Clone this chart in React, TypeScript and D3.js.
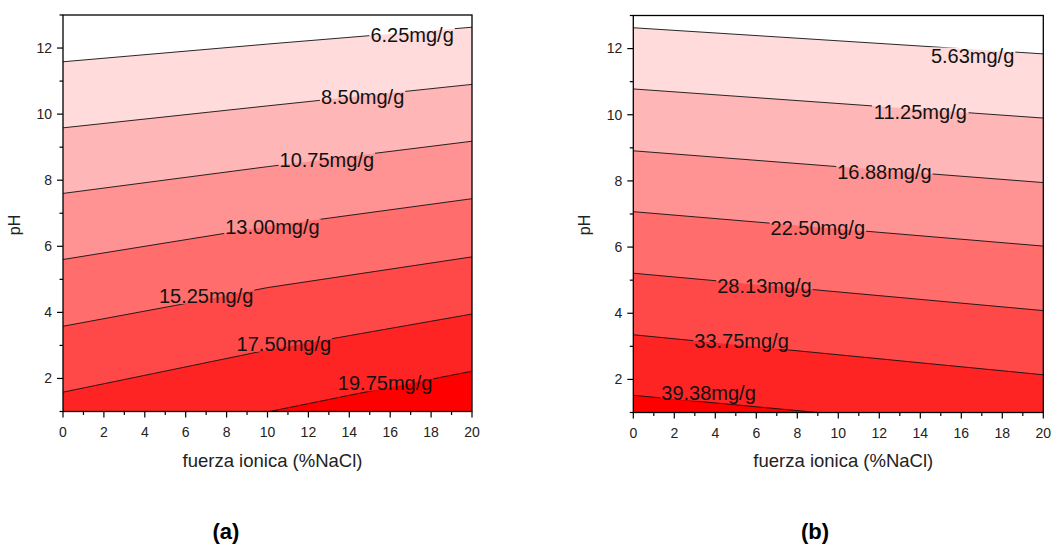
import React from "react";
import * as d3 from "d3";

// contour levels (mg/g) and line geometry: [fuerza ionica, pH]
const levelsA = ["6.25", "8.50", "10.75", "13.00", "15.25", "17.50", "19.75"];
const linesA: [number, number][][] = [
  [[0, 11.585], [10, 12.12], [20, 12.63]],
  [[0, 9.585], [10, 10.25], [20, 10.9]],
  [[0, 7.6], [10, 8.41], [20, 9.18]],
  [[0, 5.6], [10, 6.6], [20, 7.44]],
  [[0, 3.58], [5.5, 4.21], [10, 4.75], [20, 5.68]],
  [[0, 1.585], [10, 2.86], [20, 3.95]],
  [[10.1, 1], [14.4, 1.54], [20, 2.22]],
];
const labelXA = [17.07, 14.65, 12.9, 10.24, 7.0, 10.8, 15.75];
const labelYA = [12.39, 10.52, 8.6, 6.59, 4.5, 3.05, 1.87];

const levelsB = ["5.63", "11.25", "16.88", "22.50", "28.13", "33.75", "39.38"];
const linesB: [number, number][][] = [
  [[0, 12.63], [20, 11.84]],
  [[0, 10.78], [20, 9.9]],
  [[0, 8.91], [20, 7.95]],
  [[0, 7.07], [20, 6.03]],
  [[0, 5.21], [20, 4.08]],
  [[0, 3.35], [20, 2.14]],
  [[0, 1.52], [9.0, 1]],
];
const labelXB = [16.55, 14.0, 12.25, 9.0, 6.4, 5.28, 3.67];
const labelYB = [11.79, 10.07, 8.27, 6.59, 4.82, 3.15, 1.6];

const bandColors = ["#ffffff", "#ffdbdb", "#ffb6b6", "#ff9292", "#ff6d6d", "#ff4949", "#ff2424", "#ff0000"];

const xTicks = d3.range(0, 21, 2);
const xMinor = d3.range(1, 20, 2);
const yTicks = d3.range(2, 13, 2);
const yMinor = d3.range(1, 14, 2);

const FONT = "'Liberation Sans', Arial, sans-serif";
const LABEL_SIZE = 20;

// rough Arial advance widths, in em
function textWidth(s: string, size: number) {
  let w = 0;
  for (const c of s) {
    if (c === "." || c === "/") w += 0.278;
    else if (c === "m") w += 0.833;
    else w += 0.556;
  }
  return w * size;
}

function Panel(props: any) {
  const { id, left, right, top, bottom, levels, lines, labelX, labelY, tag, tagX } = props;
  const x = d3.scaleLinear().domain([0, 20]).range([left, right]);
  const y = d3.scaleLinear().domain([1, 13]).range([bottom, top]);
  const area = d3.area<[number, number]>().x(d => x(d[0])).y0(y(1)).y1(d => y(d[1]));
  const line = d3.line<[number, number]>().x(d => x(d[0])).y(d => y(d[1]));

  return (
    <g>
      <defs>
        <clipPath id={"clip" + id}>
          <rect x={left} y={top} width={right - left} height={bottom - top} />
        </clipPath>
        <mask id={"gap" + id} maskUnits="userSpaceOnUse" x={0} y={0} width={1051} height={551}>
          <rect x={0} y={0} width={1051} height={551} fill="white" />
          {levels.map((lv: string, i: number) => {
            const w = textWidth(lv + "mg/g", LABEL_SIZE) + 2;
            return (
              <rect
                key={i}
                x={x(labelX[i]) - w / 2}
                y={y(labelY[i]) - 8}
                width={w}
                height={16}
                fill="black"
              />
            );
          })}
        </mask>
      </defs>
      <g clipPath={`url(#clip${id})`}>
        <rect x={left} y={top} width={right - left} height={bottom - top} fill={bandColors[0]} />
        {lines.map((l: [number, number][], i: number) => (
          <path key={i} d={area(l) || ""} fill={bandColors[i + 1]} />
        ))}
        <g mask={`url(#gap${id})`}>
          {lines.map((l: [number, number][], i: number) => (
            <path key={i} d={line(l) || ""} fill="none" stroke="#111" strokeWidth={0.9} />
          ))}
        </g>
      </g>
      {levels.map((lv: string, i: number) => (
        <text
          key={"l" + i}
          x={x(labelX[i])}
          y={y(labelY[i])}
          textAnchor="middle"
          dominantBaseline="central"
          fontSize={LABEL_SIZE}
          fontFamily={FONT}
          fill="#111"
        >
          {lv + "mg/g"}
        </text>
      ))}

      <rect x={left} y={top} width={right - left} height={bottom - top} fill="none" stroke="#000" strokeWidth={1.3} />

      {xTicks.map(t => (
        <g key={"xt" + t}>
          <line x1={x(t)} x2={x(t)} y1={bottom} y2={bottom + 6} stroke="#000" strokeWidth={1.2} />
          <text x={x(t)} y={bottom + 25} textAnchor="middle" fontSize={14} fontFamily={FONT} fill="#222">
            {t}
          </text>
        </g>
      ))}
      {xMinor.map(t => (
        <line key={"xm" + t} x1={x(t)} x2={x(t)} y1={bottom} y2={bottom + 3.5} stroke="#000" strokeWidth={1.2} />
      ))}
      {yTicks.map(t => (
        <g key={"yt" + t}>
          <line x1={left - 6} x2={left} y1={y(t)} y2={y(t)} stroke="#000" strokeWidth={1.2} />
          <text x={left - 11} y={y(t)} dy="0.35em" textAnchor="end" fontSize={14} fontFamily={FONT} fill="#222">
            {t}
          </text>
        </g>
      ))}
      {yMinor.map(t => (
        <line key={"ym" + t} x1={left - 3.5} x2={left} y1={y(t)} y2={y(t)} stroke="#000" strokeWidth={1.2} />
      ))}

      <text
        x={(left + right) / 2 + 5}
        y={467}
        textAnchor="middle"
        fontSize={18.5}
        fontFamily={FONT}
        fill="#222"
      >
        fuerza ionica (%NaCl)
      </text>
      <text
        transform={`translate(${left - 43},${225}) rotate(-90)`}
        textAnchor="middle"
        fontSize={16}
        fontFamily={FONT}
        fill="#222"
      >
        pH
      </text>
      <text x={tagX} y={539} textAnchor="middle" fontSize={22} fontWeight="bold" fontFamily={FONT} fill="#000">
        {tag}
      </text>
    </g>
  );
}

export default function App() {
  return (
    <svg
      width={1051}
      height={551}
      style={{ position: "absolute", left: 0, top: 0, background: "#fff" }}
    >
      <Panel
        id="A"
        left={63}
        right={472}
        top={15}
        bottom={411.5}
        levels={levelsA}
        lines={linesA}
        labelX={labelXA}
        labelY={labelYA}
        tag="(a)"
        tagX={226}
      />
      <Panel
        id="B"
        left={633.3}
        right={1043.3}
        top={15.5}
        bottom={412.5}
        levels={levelsB}
        lines={linesB}
        labelX={labelXB}
        labelY={labelYB}
        tag="(b)"
        tagX={815}
      />
    </svg>
  );
}
